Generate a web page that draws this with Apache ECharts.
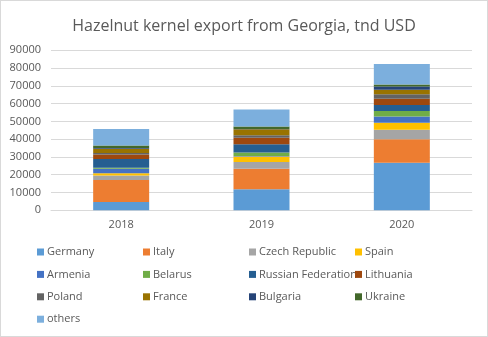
<!DOCTYPE html>
<html>
<head>
<meta charset="utf-8">
<script src="https://cdn.jsdelivr.net/npm/echarts@6/dist/echarts.min.js"></script>
<style>
  html, body { margin: 0; padding: 0; background: #fff; }
  #chart { width: 488px; height: 337px; box-sizing: border-box; border: 1px solid #d9d9d9; }
</style>
</head>
<body>
<div id="chart"></div>
<script>
// Hazelnut kernel export from Georgia by destination, thousand USD
const years = ['2018', '2019', '2020'];
const yTicks = [0, 10000, 20000, 30000, 40000, 50000, 60000, 70000, 80000, 90000];

const germany   = [4700, 11800, 26800];
const italy     = [12400, 11600, 13200];
const czech     = [2500, 3800, 5300];
const spain     = [1300, 3000, 3900];
const armenia   = [2500, 300, 3500];
const belarus   = [500, 1950, 3200];
const russia    = [5000, 4700, 3400];
const lithuania = [2500, 3700, 3500];
const poland    = [800, 1350, 2500];
const france    = [2400, 3400, 2500];
const bulgaria  = [400, 200, 1800];
const ukraine   = [1500, 1300, 1100];
const others    = [9200, 9560, 11600];

const seriesDefs = [
  ['Germany', germany, '#5B9BD5'],
  ['Italy', italy, '#ED7D31'],
  ['Czech Republic', czech, '#A5A5A5'],
  ['Spain', spain, '#FFC000'],
  ['Armenia', armenia, '#4472C4'],
  ['Belarus', belarus, '#70AD47'],
  ['Russian Federation', russia, '#255E91'],
  ['Lithuania', lithuania, '#9E480E'],
  ['Poland', poland, '#636363'],
  ['France', france, '#997300'],
  ['Bulgaria', bulgaria, '#264478'],
  ['Ukraine', ukraine, '#43682B'],
  ['others', others, '#7CAFDD']
];

const textColor = '#595959';
const font = 'Open Sans';

// legend laid out in four fixed columns
const columns = [
  { left: 36, names: ['Germany', 'Armenia', 'Poland', 'others'] },
  { left: 142, names: ['Italy', 'Belarus', 'France'] },
  { left: 248, names: ['Czech Republic', 'Russian Federation', 'Bulgaria'] },
  { left: 354, names: ['Spain', 'Lithuania', 'Ukraine'] }
];

const chart = echarts.init(document.getElementById('chart'), null, { renderer: 'canvas' });
chart.setOption({
  animation: false,
  title: {
    text: 'Hazelnut kernel export from Georgia, tnd USD',
    left: 'center',
    top: 12,
    textStyle: { color: textColor, fontFamily: font, fontSize: 16, fontWeight: 'normal' }
  },
  legend: columns.map(c => ({
    orient: 'vertical',
    left: c.left,
    top: 244,
    height: 92,
    padding: 0,
    itemWidth: 7,
    itemHeight: 7,
    itemGap: 8.4,
    icon: 'rect',
    data: c.names,
    textStyle: { color: textColor, fontFamily: font, fontSize: 11, lineHeight: 14, padding: [0, 0, 0, -2] }
  })),
  grid: { left: 50, right: 15, top: 49.3, height: 160, containLabel: false },
  xAxis: {
    type: 'category',
    data: years,
    axisLine: { lineStyle: { color: '#d9d9d9' } },
    axisTick: { show: false },
    axisLabel: { color: textColor, fontFamily: font, fontSize: 11, margin: 9 }
  },
  yAxis: {
    type: 'value',
    min: yTicks[0],
    max: yTicks[yTicks.length - 1],
    interval: yTicks[1] - yTicks[0],
    axisLine: { show: false },
    axisTick: { show: false },
    splitLine: { lineStyle: { color: '#d9d9d9' } },
    axisLabel: { color: textColor, fontFamily: font, fontSize: 11, margin: 10, formatter: v => String(v) }
  },
  series: seriesDefs.map(([name, data, color]) => ({
    name,
    type: 'bar',
    stack: 'total',
    barWidth: 56,
    data,
    itemStyle: { color }
  }))
});
</script>
</body>
</html>
